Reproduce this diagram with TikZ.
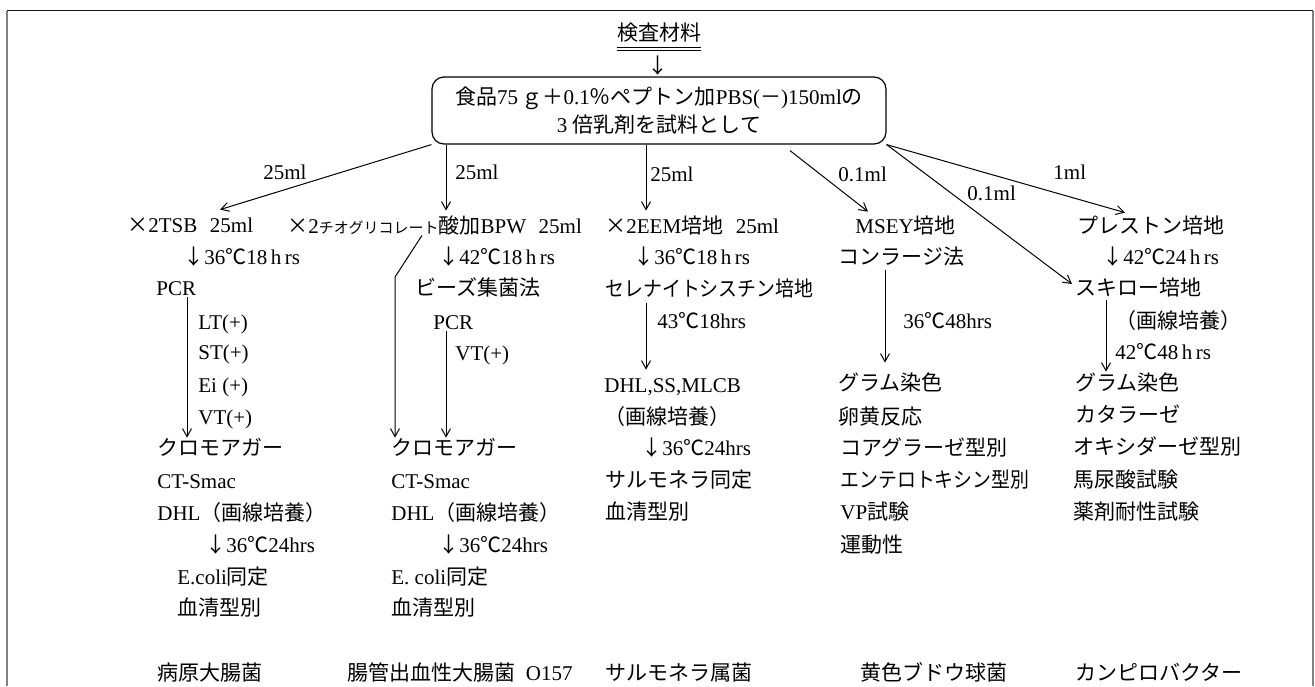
\documentclass[tikz,border=0pt]{standalone}
\usepackage{fontspec}
\usepackage{graphicx}
\setmainfont{Liberation Serif}
\newfontfamily\jf{Noto Sans CJK JP}
\newcommand\jp[1]{{\jf #1}}
\newcommand\jfs{\jf\fontsize{7.5pt}{9pt}\selectfont}
\usetikzlibrary{arrows.meta,calc}
\begin{document}
\begin{tikzpicture}[x=0.5pt,y=-0.5pt,
  T/.style={anchor=base west, inner sep=0pt, text height=7pt, text depth=1pt},
  arr/.style={-{Straight Barb[length=4pt,width=4.5pt]}, line width=0.5pt},
  ln/.style={line width=0.5pt},
  font=\fontsize{10.5pt}{16pt}\selectfont]
\useasboundingbox (0,0) rectangle (1315,686);
% frame
\draw[line width=0.8pt, black!90] (6.5,10.5) -- (1312.5,10.5);
\draw[line width=1pt, black!50] (6.5,10.5) -- (6.5,686);
\draw[line width=1pt, black!50] (1312.5,10.5) -- (1312.5,686);

% top
\node[anchor=base, inner sep=0pt, text height=7pt, text depth=1pt] (title) at (659,40) {\jp{検査材料}};
\draw[ln] ($(title.south west)+(0,5.5)$) -- ($(title.south east)+(0,5.5)$);
\draw[ln] ($(title.south west)+(0,8.5)$) -- ($(title.south east)+(0,8.5)$);
\node[anchor=base, inner sep=0pt] (dn) at (658,73) {\jp{↓}};
\node[draw, line width=0.6pt, rounded corners=6pt, minimum width=227pt, minimum height=33.5pt,
  align=center, inner sep=0pt, font=\fontsize{10.5pt}{14pt}\selectfont] (box) at (659,110.5)
  {\jp{食品}75\,\jp{ｇ＋}0.1\jp{％ペプトン加}PBS(\jp{－})150ml\jp{の}\\3 \jp{倍乳剤を試料として}};

% helper x coordinates
\coordinate (ax0) at (220,0);
\coordinate (ax1) at (187,0);
\coordinate (ax2a) at (422,0);
\coordinate (bend2) at (395,277);
\coordinate (ax2) at (446,0);
\coordinate (ax3) at (646,0);
\coordinate (ax4) at (885,0);
\coordinate (ax5) at (1106,0);
\coordinate (d4s) at (790,0);
\coordinate (d4e) at (868,0);
\coordinate (d6e) at (1125,0);

% labels
\node[T] (l1) at (263,179) {25ml};
\node[T] (l2) at (455,179) {25ml};
\node[T] (l3) at (650,181) {25ml};
\node[T] (l4) at (838,181) {0.1ml};
\node[T] (l5) at (967,200) {0.1ml};
\node[T] (l6) at (1053,179) {1ml};

% column 1
\node[T] (c1a) at (127,232) {\jp{×}2TSB\hspace{0.6em}25ml};
\node[T] (c1b) at (183,264) {\jp{↓}36\jp{℃}18\,h\,rs};
\node[T] (c1c) at (156,295) {PCR};
\node[T] (c1d) at (198,329) {LT(+)};
\node[T] (c1e) at (198,359) {ST(+)};
\node[T] (c1f) at (198,392) {Ei (+)};
\node[T] (c1g) at (198,424) {VT(+)};
\node[T] (c1h) at (157,455) {\jp{クロモアガー}};
\node[T] (c1i) at (157,488) {CT-Smac};
\node[T] (c1j) at (157,520) {DHL\jp{（画線培養）}};
\node[T] (c1k) at (205,552) {\jp{↓}36\jp{℃}24hrs};
\node[T] (c1l) at (177,584) {E.coli\jp{同定}};
\node[T] (c1m) at (177,615) {\jp{血清型別}};
\node[T] (c1n) at (157,680) {\jp{病原大腸菌}};

% column 2
\node[T] (c2a) at (287,233) {\jp{×}2{\jfs チオグリコレート}\jp{酸加}BPW\hspace{0.6em}25ml};
\node[T] (c2b) at (438,264) {\jp{↓}42\jp{℃}18\,h\,rs};
\node[T] (c2c) at (415,295) {\jp{ビーズ集菌法}};
\node[T] (c2d) at (433,329) {PCR};
\node[T] (c2e) at (455,360) {VT(+)};
\node[T] (c2f) at (391,455) {\jp{クロモアガー}};
\node[T] (c2g) at (391,488) {CT-Smac};
\node[T] (c2h) at (391,520) {DHL\jp{（画線培養）}};
\node[T] (c2i) at (438,552) {\jp{↓}36\jp{℃}24hrs};
\node[T] (c2j) at (391,584) {E. coli\jp{同定}};
\node[T] (c2k) at (391,615) {\jp{血清型別}};
\node[T] (c2l) at (347,680) {\jp{腸管出血性大腸菌}\hspace{0.5em}O157};

% column 3
\node[T] (c3a) at (605,233) {\jp{×}2EEM\jp{培地}\hspace{0.6em}25ml};
\node[T] (c3b) at (633,264) {\jp{↓}36\jp{℃}18\,h\,rs};
\node[T] (c3c) at (605,296) {\scalebox{0.9}[1]{\jp{セレナイトシスチン培地}}};
\node[T] (c3d) at (657,328) {43\jp{℃}18hrs};
\node[T] (c3e) at (604,392) {DHL,SS,MLCB};
\node[T] (c3f) at (604,424) {\jp{（画線培養）}};
\node[T] (c3g) at (641,455) {\jp{↓}36\jp{℃}24hrs};
\node[T] (c3h) at (605,487) {\jp{サルモネラ同定}};
\node[T] (c3i) at (605,519) {\jp{血清型別}};
\node[T] (c3j) at (605,680) {\jp{サルモネラ属菌}};

% column 4
\node[T] (c4a) at (855,233) {MSEY\jp{培地}};
\node[T] (c4b) at (838,264) {\jp{コンラージ法}};
\node[T] (c4c) at (903,328) {36\jp{℃}48hrs};
\node[T] (c4d) at (838,390) {\jp{グラム染色}};
\node[T] (c4e) at (838,424) {\jp{卵黄反応}};
\node[T] (c4f) at (840,455) {\jp{コアグラーゼ型別}};
\node[T] (c4g) at (840,487) {\scalebox{0.9}[1]{\jp{エンテロトキシン型別}}};
\node[T] (c4h) at (840,519) {VP\jp{試験}};
\node[T] (c4i) at (840,552) {\jp{運動性}};
\node[T] (c4j) at (860,680) {\jp{黄色ブドウ球菌}};

% column 5
\node[T] (c5a) at (1077,233) {\jp{プレストン培地}};
\node[T] (c5b) at (1102,264) {\jp{↓}42\jp{℃}24\,h\,rs};
\node[T] (c5c) at (1075,295) {\jp{スキロー培地}};
\node[T] (c5d) at (1115,328) {\jp{（画線培養）}};
\node[T] (c5e) at (1115,359) {42\jp{℃}48\,h\,rs};
\node[T] (c5f) at (1075,390) {\jp{グラム染色}};
\node[T] (c5g) at (1075,422) {\jp{カタラーゼ}};
\node[T] (c5h) at (1073,454) {\jp{オキシダーゼ型別}};
\node[T] (c5i) at (1073,487) {\jp{馬尿酸試験}};
\node[T] (c5j) at (1073,519) {\jp{薬剤耐性試験}};
\node[T] (c5k) at (1075,680) {\jp{カンピロバクター}};

% arrows from box
\draw[arr] (box.south west) -- ($(c1a.north -| ax0)+(0,-8)$);
\draw[arr] (box.south -| ax2) -- ($(c2a.north -| ax2)+(0,-8)$);
\draw[arr] (box.south -| ax3) -- ($(c3a.north -| ax3)+(0,-8)$);
\draw[arr] ($(box.south -| d4s)+(0,6)$) -- ($(c4a.north -| d4e)+(0,-7)$);
\draw[arr] (box.south east) -- ($(c5c.west)+(-3,-5)$);
\draw[arr] (box.south east) -- ($(c5a.north -| d6e)+(0,-6)$);

% column arrows
\draw[arr] (c1c.south -| ax1) -- ($(c1h.north -| ax1)+(0,-3)$);
\draw[arr] (c2a.south -| ax2a) -- (bend2) -- ($(c2f.north -| bend2)+(0,-3)$);
\draw[arr] (c2d.south -| ax2) -- ($(c2f.north -| ax2)+(0,-3)$);
\draw[arr] ($(c3c.south -| ax3)+(0,5)$) -- ($(c3e.north -| ax3)+(0,-8)$);
\draw[arr] ($(c4b.south -| ax4)+(0,4)$) -- ($(c4d.north -| ax4)+(0,-13)$);
\draw[arr] ($(c5c.south -| ax5)+(0,3)$) -- ($(c5f.north -| ax5)+(0,-4)$);
\end{tikzpicture}
\end{document}
